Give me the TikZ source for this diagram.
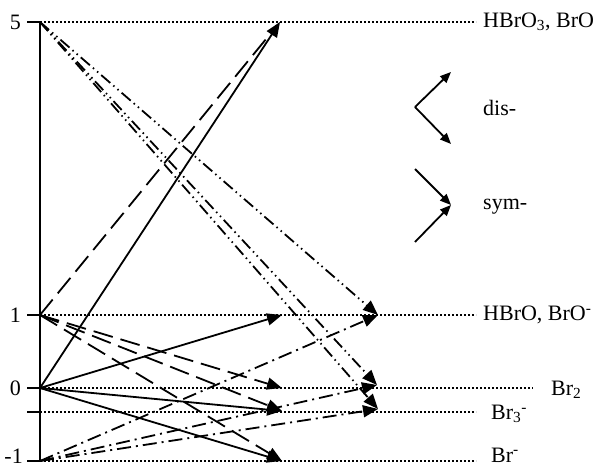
\documentclass[tikz,border=0pt]{standalone}
\usepackage{fontspec}
\setmainfont{Liberation Serif}
\usetikzlibrary{arrows.meta}
\begin{document}
\begin{tikzpicture}[x=1pt,y=-1pt,
  lbl/.style={font=\fontsize{22}{26}\selectfont, inner sep=0pt},
  level/.style={line width=1.5pt, dash pattern=on 2.2pt off 1.8pt},
  axisline/.style={line width=2.6pt},
  bigtip/.style={-{Triangle[length=15pt,width=12pt]}},
  smalltip/.style={-{Triangle[length=11pt,width=9pt]}},
  arr/.style={line width=1.8pt},
  solidarr/.style={arr, bigtip},
  dasharr/.style={arr, bigtip, dash pattern=on 20pt off 8pt},
  ddotarr/.style={arr, bigtip, dash pattern=on 12pt off 4pt on 1.5pt off 4pt on 1.5pt off 4pt},
  dotdasharr/.style={arr, bigtip, dash pattern=on 14pt off 5pt on 2pt off 5pt},
  legendarr/.style={line width=1.8pt, smalltip},
]
\useasboundingbox (0,0) rectangle (603,468);

% oxidation-state axis
\coordinate (v5) at (40,22);
\coordinate (v1) at (40,315);
\coordinate (v0) at (40,388);
\coordinate (v3) at (40,412);
\coordinate (vm1) at (40,461);
\draw[axisline] (v5) -- (vm1);
\foreach \p in {v5,v1,v0,v3,vm1} \draw[axisline] (\p) -- ++(-13,0);

\node[lbl, anchor=east] (n5) at (21,22) {5};
\node[lbl, anchor=east] (n1) at (21,315) {1};
\node[lbl, anchor=east] (n0) at (21,388) {0};
\node[lbl, anchor=east, text depth=0pt] (nm1) at (23,456) {-1};

% species levels
\node[lbl, anchor=west] (s5) at (483,22) {HBrO\textsubscript{3}, BrO};
\node[lbl, anchor=west] (s1) at (483,315) {HBrO, BrO\textsuperscript{-}};
\node[lbl, anchor=west] (s0) at (551,390) {Br\textsubscript{2}};
\node[lbl, anchor=west] (s3) at (491,414) {Br\textsubscript{3}\textsuperscript{-}};
\node[lbl, anchor=west, text depth=0pt] (sm1) at (491,455) {Br\textsuperscript{-}};

\draw[level, shorten >=7pt] (v5) -- (v5 -| s5.west);
\draw[level, shorten >=7pt] (v1) -- (v1 -| s1.west);
\draw[level, shorten >=18pt] (v0) -- (v0 -| s0.west);
\draw[level, shorten >=15pt] (v3) -- (v3 -| s3.west);
\draw[level, shorten >=15pt] (vm1) -- (vm1 -| sm1.west);

% arrow targets
\coordinate (a5) at (280,22);
\coordinate (a1) at (282,315);
\coordinate (a0) at (282,388);
\coordinate (a3) at (282,411);
\coordinate (am1) at (282,461);
\coordinate (b1) at (378,315);
\coordinate (b0) at (377,385);
\coordinate (b3) at (378,409);

% from 0
\draw[solidarr] (v0) -- (a5);
\draw[solidarr] (v0) -- (a1);
\draw[solidarr] (v0) -- (a3);
\draw[solidarr] (v0) -- (am1);

% from 1
\draw[arr, dash pattern=on 20pt off 8pt, shorten >=12pt] (v1) -- (a5);
\draw[dasharr] (v1) -- (a0);
\draw[dasharr] (v1) -- (a3);
\draw[dasharr] (v1) -- (am1);

% from 5
\draw[ddotarr] (v5) -- (b1);
\draw[ddotarr] (v5) -- (b0);
\draw[ddotarr] (v5) -- (b3);

% from -1
\draw[dotdasharr] (vm1) -- (b1);
\draw[dotdasharr] (vm1) -- (b0);
\draw[dotdasharr] (vm1) -- (b3);

% legend
\coordinate (dv) at (415,107);
\coordinate (du) at (451,72);
\coordinate (dd) at (451,144);
\draw[legendarr] (dv) -- (du);
\draw[legendarr] (dv) -- (dd);
\node[lbl, anchor=west] (dis) at (483,108) {dis-};

\coordinate (sa) at (415,169);
\coordinate (sb) at (415,242);
\coordinate (sv) at (451,205);
\draw[legendarr] (sa) -- (sv);
\draw[legendarr] (sb) -- (sv);
\node[lbl, anchor=west] (sym) at (483,207) {sym-};
\end{tikzpicture}
\end{document}
